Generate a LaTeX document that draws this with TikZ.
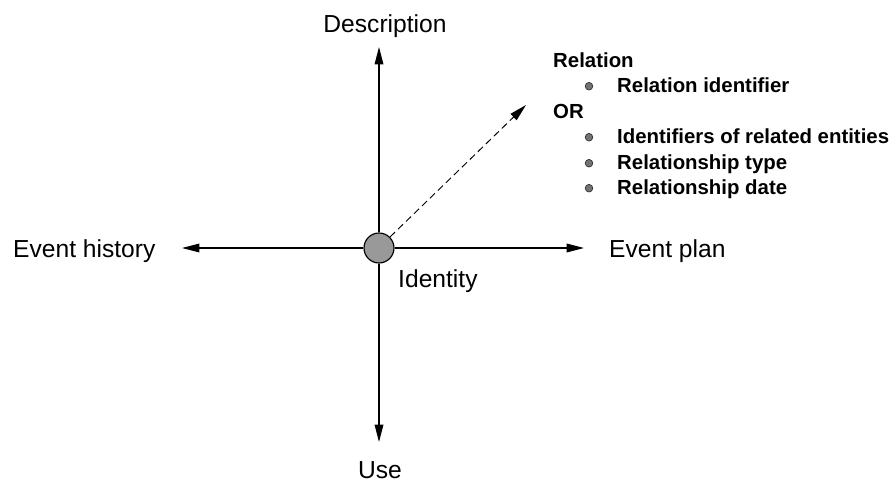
\documentclass[tikz,border=0pt]{standalone}
\usepackage{fontspec}
\setmainfont{Liberation Sans}
\usetikzlibrary{arrows.meta}
\tikzset{axis/.style={line width=1pt, -{Triangle[length=5.2mm,width=2.6mm]}},
         axislabel/.style={inner sep=0pt, font=\fontsize{21}{25}\selectfont},
         listtext/.style={inner sep=0pt, anchor=base west, font=\fontsize{17.4}{20}\selectfont\bfseries},
         dot/.style={circle, draw=black!80, fill=black!55, line width=0.6pt, minimum size=6.5pt, inner sep=0pt}}

\begin{document}
\begin{tikzpicture}[x=0.03cm, y=-0.03cm]
   \useasboundingbox (0,0) rectangle (896,484);
   % identity in the middle
   \node[circle, draw, line width=1pt, fill=black!40, minimum size=30*0.03cm, inner sep=0pt] (c) at (379,248) {};
   \coordinate (top)   at (379,47);
   \coordinate (bot)   at (379,442);
   \coordinate (left)  at (182,248);
   \coordinate (right) at (584,248);
   \coordinate (reltip) at (526,105);
   \draw[axis] (c) -- (top);
   \draw[axis] (c) -- (bot);
   \draw[axis] (c) -- (left);
   \draw[axis] (c) -- (right);
   \draw[axis, line width=0.8pt, dash pattern=on 6pt off 3.5pt] (c.45) -- (reltip);
   % axis labels
   \node[axislabel, anchor=base]      (desc)  at (385,33)  {Description};
   \node[axislabel, anchor=base]      (use)   at (380,478) {Use};
   \node[axislabel, anchor=base west] (hist)  at (13,258)  {Event history};
   \node[axislabel, anchor=base west] (plan)  at (609,258) {Event plan};
   \node[axislabel, anchor=base west] (ident) at (398,287) {Identity};
   % relation list
   \node[listtext] (rel)   at (553,68)  {Relation};
   \node[listtext] (relid) at (617,93)  {Relation identifier};
   \node[listtext] (or)    at (553,119) {OR};
   \node[listtext] (ids)   at (617,144) {Identifiers of related entities};
   \node[listtext] (rtype) at (617,170) {Relationship type};
   \node[listtext] (rdate) at (617,195) {Relationship date};
   \foreach \n in {relid,ids,rtype,rdate}
     \node[dot] at ([yshift=5.8pt]\n.base -| 589,0) {};
\end{tikzpicture}
\end{document}
